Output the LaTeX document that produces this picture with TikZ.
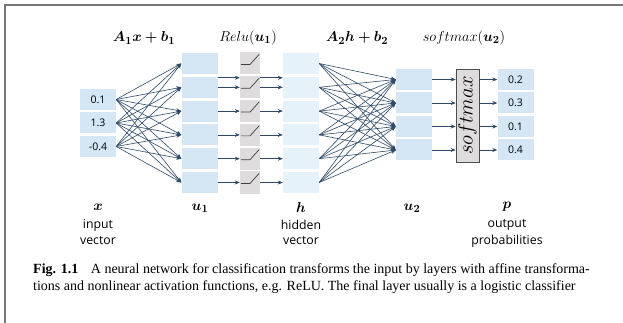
\documentclass[tikz,border=0pt]{standalone}
\usepackage{fontspec}
\usepackage{bm}
\setsansfont{Open Sans}
\setmainfont{Liberation Serif}
\usetikzlibrary{arrows.meta}
\definecolor{boxblue}{HTML}{D5E7F5}
\definecolor{boxlight}{HTML}{E6F2FA}
\definecolor{relugray}{HTML}{DEDCDC}
\definecolor{arrcol}{HTML}{2E4A68}
\definecolor{framegray}{HTML}{777777}
\begin{document}
\begin{tikzpicture}[x=1pt,y=-1pt,
  vbox/.style={fill=boxblue,draw=none,minimum width=36pt,minimum height=21pt,inner sep=0pt,font=\sffamily\fontsize{10.5}{11}\selectfont},
  hbox/.style={fill=boxlight,draw=none,minimum width=36pt,minimum height=21pt,inner sep=0pt},
  rbox/.style={fill=relugray,draw=none,minimum width=20pt,minimum height=22pt,inner sep=0pt},
  arr/.style={draw=arrcol,line width=0.6pt,-{Stealth[length=5pt,width=4pt]}},
  mlab/.style={font=\fontsize{15}{17}\selectfont,inner sep=0pt},
  tlab/.style={font=\sffamily\fontsize{12.3}{13}\selectfont,inner sep=0pt},
  captext/.style={font=\rmfamily\fontsize{14}{16}\selectfont,anchor=west,inner sep=0pt}
]
\useasboundingbox (0,0) rectangle (623,323);
\draw[framegray,line width=1.5pt] (623,5) -- (5,5) -- (5,323);

% input
\foreach \v [count=\i] in {0.1,1.3,-0.4}
  \node[vbox] (x\i) at (98,{99.5+23.5*(\i-1)}) {\v};
% u1, relu, h
\foreach \i in {1,...,6}{
  \node[vbox] (u\i) at (199.5,{63.5+23.8*(\i-1)}) {};
  \node[rbox] (r\i) at (250,{63.5+23.8*(\i-1)}) {};
  \node[hbox] (h\i) at (301,{63.5+23.8*(\i-1)}) {};
  \draw[line width=0.7pt,black!75] ([xshift=1pt,yshift=-1pt]r\i.west) -- ([yshift=-1pt]r\i.center) -- ([xshift=-1pt,yshift=-2pt]r\i.north east);
}
% u2, p
\foreach \v [count=\i] in {0.2,0.3,0.1,0.4}{
  \node[vbox] (v\i) at (414,{79.5+23.5*(\i-1)}) {};
  \node[vbox] (p\i) at (515.5,{79.5+23.5*(\i-1)}) {\v};
}
\node[fill=relugray,draw=black!70,line width=0.6pt,minimum width=23pt,minimum height=93pt,inner sep=0pt] (sm) at (467.5,115.5) {};
\node[rotate=90,inner sep=0pt,font=\fontsize{21}{23}\selectfont] (smt) at (sm.center) {$softmax$};

% connections input -> u1
\foreach \i in {1,2,3}
  \foreach \j in {1,...,6}
    \draw[arr] (x\i.east) -- (u\j.west);
% u1 -> relu -> h
\foreach \i in {2,...,6}{
  \draw[arr] (u\i.east) -- (r\i.west);
  \draw[arr] (r\i.east) -- (h\i.west);
}
\draw[arr] ([yshift=9.5pt]u2.east) -- ([yshift=9.5pt]r2.west);
\draw[arr] ([yshift=9.5pt]r2.east) -- ([yshift=9.5pt]h2.west);
% h -> u2
\foreach \i in {1,...,6}
  \foreach \j in {1,...,4}
    \draw[arr] (h\i.east) -- (v\j.west);
% u2 -> softmax -> p
\foreach \j in {1,...,4}{
  \draw[arr] (v\j.east) -- (v\j.east -| sm.west);
  \draw[arr] (v\j.east -| sm.east) -- (p\j.west);
}

% top labels
\node[mlab] (l1) at (144,38) {$\bm{A_1x+b_1}$};
\node[mlab] (l2) at (248,38) {$Relu(\bm{u_1})$};
\node[mlab] (l3) at (357,38) {$\bm{A_2h+b_2}$};
\node[mlab] (l4) at (464,38) {$softmax(\bm{u_2})$};

% bottom labels
\node[mlab] (bx) at (98,207) {$\bm{x}$};
\node[mlab] (bu1) at (200,208) {$\bm{u_1}$};
\node[mlab] (bh) at (301,207) {$\bm{h}$};
\node[mlab] (bu2) at (412,208) {$\bm{u_2}$};
\node[mlab] (bp) at (507,207) {$\bm{p}$};
\node[tlab] (t1) at (98,225) {input};
\node[tlab] (t2) at (98,241) {vector};
\node[tlab] (t3) at (301,225) {hidden};
\node[tlab] (t4) at (301,241) {vector};
\node[tlab] (t5) at (507,225) {output};
\node[tlab] (t6) at (507,241) {probabilities};

% caption
\node[captext] (c1) at (33,270) {\textbf{Fig. 1.1}\hspace{0.9em}A neural network for classification transforms the input by layers with affine transforma-};
\node[captext] (c2) at (33,287) {tions and nonlinear activation functions, e.g. ReLU. The final layer usually is a logistic classifier};
\end{tikzpicture}
\end{document}
